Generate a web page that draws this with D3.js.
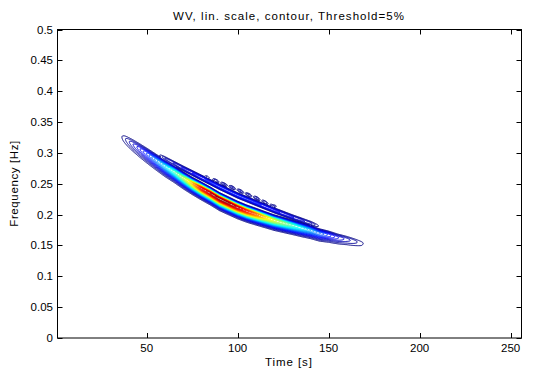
<!DOCTYPE html>
<html>
<head>
<meta charset="utf-8">
<script src="https://cdn.jsdelivr.net/npm/d3@7"></script>
<style>
html,body{margin:0;padding:0;background:#fff;}
svg{display:block;}
text{font-family:"Liberation Sans",Arial,Helvetica,sans-serif;fill:#000;}
</style>
</head>
<body>
<svg id="chart" width="538" height="374"></svg>
<script>
// ---- data ----
const titleText = "WV, lin. scale, contour, Threshold=5%";
const xLabel = "Time [s]";
const yLabel = "Frequency [Hz]";
const timeTicks = [50, 100, 150, 200, 250];
const freqTicks = [0, 0.05, 0.1, 0.15, 0.2, 0.25, 0.3, 0.35, 0.4, 0.45, 0.5];
const freqTickLabels = ["0", "0.05", "0.1", "0.15", "0.2", "0.25", "0.3", "0.35", "0.4", "0.45", "0.5"];

// main auto-term ridge (instantaneous frequency, relative energy, spread above / below)
const ridgeTime  = [34, 38, 45, 50, 55, 60, 65, 70, 75, 80, 85, 90, 95, 100, 105, 110, 115, 120, 125, 130, 135, 140, 145, 150, 155, 160, 168, 172];
const ridgeFreq  = [0.330, 0.323, 0.309, 0.299, 0.289, 0.279, 0.270, 0.260, 0.251, 0.243, 0.235, 0.226, 0.219, 0.212, 0.206, 0.201, 0.196, 0.191, 0.187, 0.183, 0.179, 0.175, 0.170, 0.167, 0.163, 0.160, 0.154, 0.152];
const ridgeAmp   = [0.02, 0.07, 0.15, 0.22, 0.30, 0.38, 0.47, 0.57, 0.72, 0.90, 0.96, 1.00, 0.99, 0.95, 0.88, 0.80, 0.70, 0.62, 0.55, 0.48, 0.41, 0.34, 0.27, 0.21, 0.15, 0.11, 0.06, 0.02];
const spreadUp   = [0.0055, 0.0055, 0.0053, 0.0051, 0.0049, 0.0047, 0.0045, 0.0044, 0.0042, 0.0041, 0.0040, 0.0040, 0.0040, 0.0040, 0.0040, 0.0040, 0.0039, 0.0039, 0.0039, 0.0038, 0.0038, 0.0038, 0.0038, 0.0037, 0.0037, 0.0037, 0.0037, 0.0037];
const spreadDown = [0.0085, 0.0085, 0.0088, 0.0088, 0.0087, 0.0086, 0.0084, 0.0082, 0.0080, 0.0080, 0.0080, 0.0080, 0.0079, 0.0078, 0.0077, 0.0076, 0.0075, 0.0074, 0.0073, 0.0072, 0.0072, 0.0071, 0.0071, 0.0070, 0.0070, 0.0070, 0.0068, 0.0068];

// first interference band (just above the ridge)
const bandTime = [56, 60, 70, 80, 90, 100, 110, 120, 130, 140, 146];
const bandFreq = [0.298, 0.291, 0.275, 0.260, 0.245, 0.231, 0.219, 0.207, 0.196, 0.186, 0.180];
const bandAmp  = [0.03, 0.10, 0.15, 0.19, 0.21, 0.21, 0.20, 0.18, 0.15, 0.11, 0.03];

// second interference band: row of small loops
const loopTime = [83, 88, 92.5, 97, 101.5, 106, 110.5, 115, 119.5];
const loopFreq = [0.261, 0.255, 0.249, 0.244, 0.238, 0.232, 0.2265, 0.220, 0.2135];
const loopAmp  = [0.075, 0.095, 0.10, 0.10, 0.10, 0.10, 0.10, 0.095, 0.09];

const threshold = 0.05;
const nLevels = 40;

// ---- layout ----
const L = 57.5, R = 521.5, T = 29.5, B = 338;
const svg = d3.select("#chart");
const x = d3.scaleLinear().domain([1, 256]).range([L, R]);
const y = d3.scaleLinear().domain([0, 0.5]).range([B, T]);

// interpolators via scales
const fRidge = d3.scaleLinear().domain(ridgeTime).range(ridgeFreq).clamp(true);
const aRidge = d3.scaleLinear().domain(ridgeTime).range(ridgeAmp).clamp(true);
const suRidge = d3.scaleLinear().domain(ridgeTime).range(spreadUp).clamp(true);
const sdRidge = d3.scaleLinear().domain(ridgeTime).range(spreadDown).clamp(true);
const fBand = d3.scaleLinear().domain(bandTime).range(bandFreq).clamp(true);
const aBand = d3.scaleLinear().domain(bandTime).range(bandAmp).clamp(true);
const fLoop = d3.scaleLinear().domain(loopTime).range(loopFreq).clamp(true);

// grid
const t0 = 20, dt = 0.4, nx = 451;
const f0 = 0.10, df = 0.0004, ny = 651;
const values = new Float64Array(nx * ny);
for (let i = 0; i < nx; i++) {
  const t = t0 + i * dt;
  const inR = t >= ridgeTime[0] && t <= ridgeTime[ridgeTime.length - 1];
  const fc = fRidge(t), A = inR ? aRidge(t) : 0, su = suRidge(t), sd = sdRidge(t);
  const inB = t >= bandTime[0] && t <= bandTime[bandTime.length - 1];
  const fb = fBand(t), Ab = inB ? aBand(t) : 0, sb = 0.0026;
  const fl = fLoop(t);
  let Al = 0;
  for (let k = 0; k < loopTime.length; k++) {
    const d = (t - loopTime[k]) / 1.55;
    Al = Math.max(Al, loopAmp[k] * Math.exp(-0.5 * d * d));
  }
  const sl = 0.0022;
  for (let j = 0; j < ny; j++) {
    const f = f0 + j * df;
    const d1 = (f - fc) / (f > fc ? su : sd), d2 = (f - fb) / sb, d3v = (f - fl) / sl;
    const v = Math.max(A * Math.exp(-0.5 * d1 * d1), Ab * Math.exp(-0.5 * d2 * d2), Al * Math.exp(-0.5 * d3v * d3v));
    values[j * nx + i] = v;
  }
}

const levels = d3.range(nLevels).map(k => threshold + k * (0.98 - threshold) / (nLevels - 1));
function jet(v) {
  const c = u => Math.max(0, Math.min(1, u));
  const r = c(1.5 - Math.abs(4 * v - 3)), g = c(1.5 - Math.abs(4 * v - 2)), b = c(1.5 - Math.abs(4 * v - 1));
  return d3.rgb(r * 255, g * 255, b * 255).toString();
}

const contours = d3.contours().size([nx, ny]).thresholds(levels)(values);

svg.append("clipPath").attr("id", "clip").append("rect")
  .attr("x", L).attr("y", T).attr("width", R - L).attr("height", B - T);

const g = svg.append("g").attr("clip-path", "url(#clip)");
function ringPath(ring) {
  return "M" + ring.map(p => {
    const t = t0 + (p[0] - 0.5) * dt;
    const f = f0 + (p[1] - 0.5) * df;
    return x(t).toFixed(2) + "," + y(f).toFixed(2);
  }).join("L") + "Z";
}
contours.forEach(c => {
  const d = c.coordinates.map(poly => poly.map(ringPath).join("")).join("");
  if (!d) return;
  g.append("path").attr("d", d)
    .attr("fill", "none")
    .attr("stroke", jet((c.value - threshold) / (1 - threshold)))
    .attr("stroke-width", 1)
    .attr("stroke-linejoin", "round");
});

// ---- axes box & ticks ----
const axisG = svg.append("g");
axisG.append("rect").attr("x", L).attr("y", T).attr("width", R - L).attr("height", B - T)
  .attr("fill", "none").attr("stroke", "#000").attr("stroke-width", 1);
const tickLen = 5;
timeTicks.forEach(v => {
  const px = Math.round(x(v)) + 0.5;
  axisG.append("line").attr("x1", px).attr("x2", px).attr("y1", B).attr("y2", B - tickLen).attr("stroke", "#000");
  axisG.append("line").attr("x1", px).attr("x2", px).attr("y1", T).attr("y2", T + tickLen).attr("stroke", "#000");
  axisG.append("text").attr("x", x(v)).attr("y", 351.5).attr("text-anchor", "middle")
    .attr("font-size", "11.5px").text(v);
});
freqTicks.forEach((v, i) => {
  const py = Math.round(y(v)) + 0.5;
  axisG.append("line").attr("x1", L).attr("x2", L + tickLen).attr("y1", py).attr("y2", py).attr("stroke", "#000");
  axisG.append("line").attr("x1", R).attr("x2", R - tickLen).attr("y1", py).attr("y2", py).attr("stroke", "#000");
  axisG.append("text").attr("x", 53).attr("y", y(v) + 4).attr("text-anchor", "end")
    .attr("font-size", "11.5px").text(freqTickLabels[i]);
});

// ---- labels ----
svg.append("text").attr("x", 288.5).attr("y", 20).attr("text-anchor", "middle")
  .attr("font-size", "11.5px").attr("textLength", 231).attr("lengthAdjust", "spacing").text(titleText);
svg.append("text").attr("x", 288.5).attr("y", 366).attr("text-anchor", "middle")
  .attr("font-size", "11.5px").attr("textLength", 47).attr("lengthAdjust", "spacing").text(xLabel);
svg.append("text").attr("transform", `translate(18,${(T + B) / 2}) rotate(-90)`)
  .attr("text-anchor", "middle").attr("font-size", "11.5px").attr("textLength", 86).attr("lengthAdjust", "spacing").text(yLabel);
</script>
</body>
</html>
